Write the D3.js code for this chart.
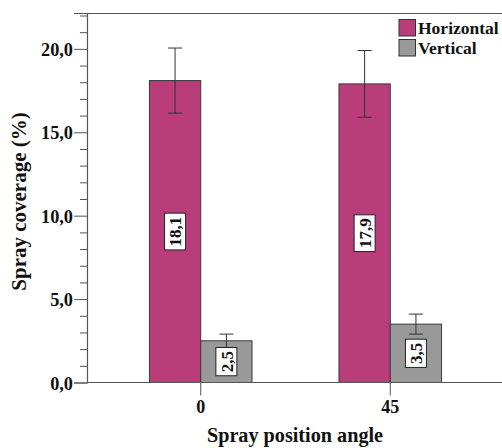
<!DOCTYPE html>
<html>
<head>
<meta charset="utf-8">
<script src="https://cdn.jsdelivr.net/npm/d3@7"></script>
<style>
  html, body { margin: 0; padding: 0; background: #fff; }
  svg { display: block; }
  svg text { font-family: "Liberation Serif", "Times New Roman", serif !important; font-weight: bold; fill: #111; }
</style>
</head>
<body>
<svg id="chart" width="502" height="448"></svg>
<script>
// Spray coverage by spray position angle and nozzle orientation
const categories = ["0", "45"];
const seriesNames = ["Horizontal", "Vertical"];
const horizontal = [18.1, 17.9];
const vertical = [2.5, 3.5];
const horizontalErr = [1.95, 2.0];
const verticalErr = [0.4, 0.6];
const yMajorTicks = [0, 5, 10, 15, 20];
const yMinorTicks = [1, 2, 3, 4, 6, 7, 8, 9, 11, 12, 13, 14, 16, 17, 18, 19, 21, 22];
const colors = ["#b83d7a", "#999999"];

const FONT = '"Liberation Serif", "Times New Roman", serif';
const svg = d3.select("#chart");
const margin = { left: 87, top: 13, right: 504, bottom: 382.5 };

const x = d3.scaleBand().domain(categories).range([margin.left, margin.right])
  .paddingInner(0).paddingOuter(0.1);
const y = d3.scaleLinear().domain([0, 22.15]).range([margin.bottom, margin.top]);
const barW = 51.3;

const fmt = v => d3.format(".1f")(v).replace(".", ",");

// frame
svg.append("line")
  .attr("x1", margin.left).attr("x2", margin.right)
  .attr("y1", margin.top + 0.5).attr("y2", margin.top + 0.5)
  .attr("stroke", "#555").attr("stroke-width", 1.2);

// y axis with major and minor ticks
const yAxis = d3.axisLeft(y).tickValues(yMajorTicks).tickSize(13).tickPadding(1).tickFormat(fmt);
const gy = svg.append("g").attr("transform", `translate(${margin.left},0)`).call(yAxis)
  .attr("font-family", FONT).attr("font-weight", "bold");
gy.select(".domain").attr("stroke", "#555").attr("stroke-width", 1.2);
gy.selectAll(".tick line").attr("stroke", "#555");
gy.selectAll(".tick text").style("font-size", "18.3px").attr("dy", "0.36em");
const yMinor = d3.axisLeft(y).tickValues(yMinorTicks).tickSize(7).tickFormat("");
const gyMinor = svg.append("g").attr("transform", `translate(${margin.left},0)`).call(yMinor);
gyMinor.select(".domain").remove();
gyMinor.selectAll(".tick line").attr("stroke", "#555");

// bars
const rows = categories.map((c, i) => ({
  cat: c,
  items: [
    { s: 0, v: horizontal[i], e: horizontalErr[i] },
    { s: 1, v: vertical[i], e: verticalErr[i] }
  ]
}));

const groups = svg.append("g").selectAll("g").data(rows).join("g");
const bars = groups.selectAll("g.bar")
  .data(d => d.items.map(it => ({ ...it, cx: x(d.cat) + x.bandwidth() / 2 })))
  .join("g").attr("class", "bar");

bars.append("rect")
  .attr("x", d => d.s === 0 ? d.cx - barW : d.cx)
  .attr("y", d => y(d.v))
  .attr("width", barW)
  .attr("height", d => y(0) - y(d.v))
  .attr("fill", d => colors[d.s])
  .attr("stroke", "#3a3a3a").attr("stroke-width", 1);

// error bars
const ecx = d => d.s === 0 ? d.cx - barW / 2 : d.cx + barW / 2;
bars.append("line")
  .attr("x1", ecx).attr("x2", ecx)
  .attr("y1", d => y(d.v + d.e)).attr("y2", d => y(d.v - d.e))
  .attr("stroke", "#333").attr("stroke-width", 1);
["plus", "minus"].forEach(k => {
  bars.append("line")
    .attr("x1", d => ecx(d) - 7).attr("x2", d => ecx(d) + 7)
    .attr("y1", d => y(k === "plus" ? d.v + d.e : d.v - d.e))
    .attr("y2", d => y(k === "plus" ? d.v + d.e : d.v - d.e))
    .attr("stroke", "#333").attr("stroke-width", 1);
});

// value labels in the middle of each bar
bars.each(function(d) {
  const g = d3.select(this);
  const lx = d.s === 0 ? d.cx - barW / 2 : d.cx + barW / 2;
  const ly = y(d.v / 2);
  const lab = g.append("g").attr("transform", `translate(${lx},${ly}) rotate(-90)`);
  const t = lab.append("text")
    .attr("text-anchor", "middle").attr("dy", "0.36em")
    .style("font-size", "17px").text(fmt(d.v));
  const bb = t.node().getBBox();
  lab.insert("rect", "text")
    .attr("x", bb.x - 3.5).attr("y", -10.5)
    .attr("width", bb.width + 7).attr("height", 21)
    .attr("fill", "#fff").attr("stroke", "#222").attr("stroke-width", 1);
});

// x axis
svg.append("line")
  .attr("x1", margin.left).attr("x2", margin.right)
  .attr("y1", margin.bottom).attr("y2", margin.bottom)
  .attr("stroke", "#555").attr("stroke-width", 1.2);
const xAxis = d3.axisBottom(x).tickSize(13).tickPadding(5);
const gx = svg.append("g").attr("transform", `translate(0,${margin.bottom})`).call(xAxis)
  .attr("font-family", FONT).attr("font-weight", "bold");
gx.select(".domain").remove();
gx.selectAll(".tick line").attr("stroke", "#555");
gx.selectAll(".tick text").style("font-size", "18px");

// axis titles
svg.append("text")
  .attr("x", 295).attr("y", 442)
  .attr("text-anchor", "middle").style("font-size", "20.2px")
  .text("Spray position angle");
svg.append("text")
  .attr("transform", "translate(26,201.5) rotate(-90)")
  .attr("text-anchor", "middle").style("font-size", "21px")
  .text("Spray coverage (%)");

// legend
const legend = svg.append("g").attr("transform", "translate(399,19.5)");
seriesNames.forEach((name, i) => {
  const row = legend.append("g").attr("transform", `translate(0,${i * 20})`);
  row.append("rect").attr("width", 16.5).attr("height", 16.5)
    .attr("fill", colors[i]).attr("stroke", "#333").attr("stroke-width", 1);
  row.append("text").attr("x", 19).attr("y", 14.5)
    .style("font-size", "17.5px").text(name);
});
</script>
</body>
</html>
